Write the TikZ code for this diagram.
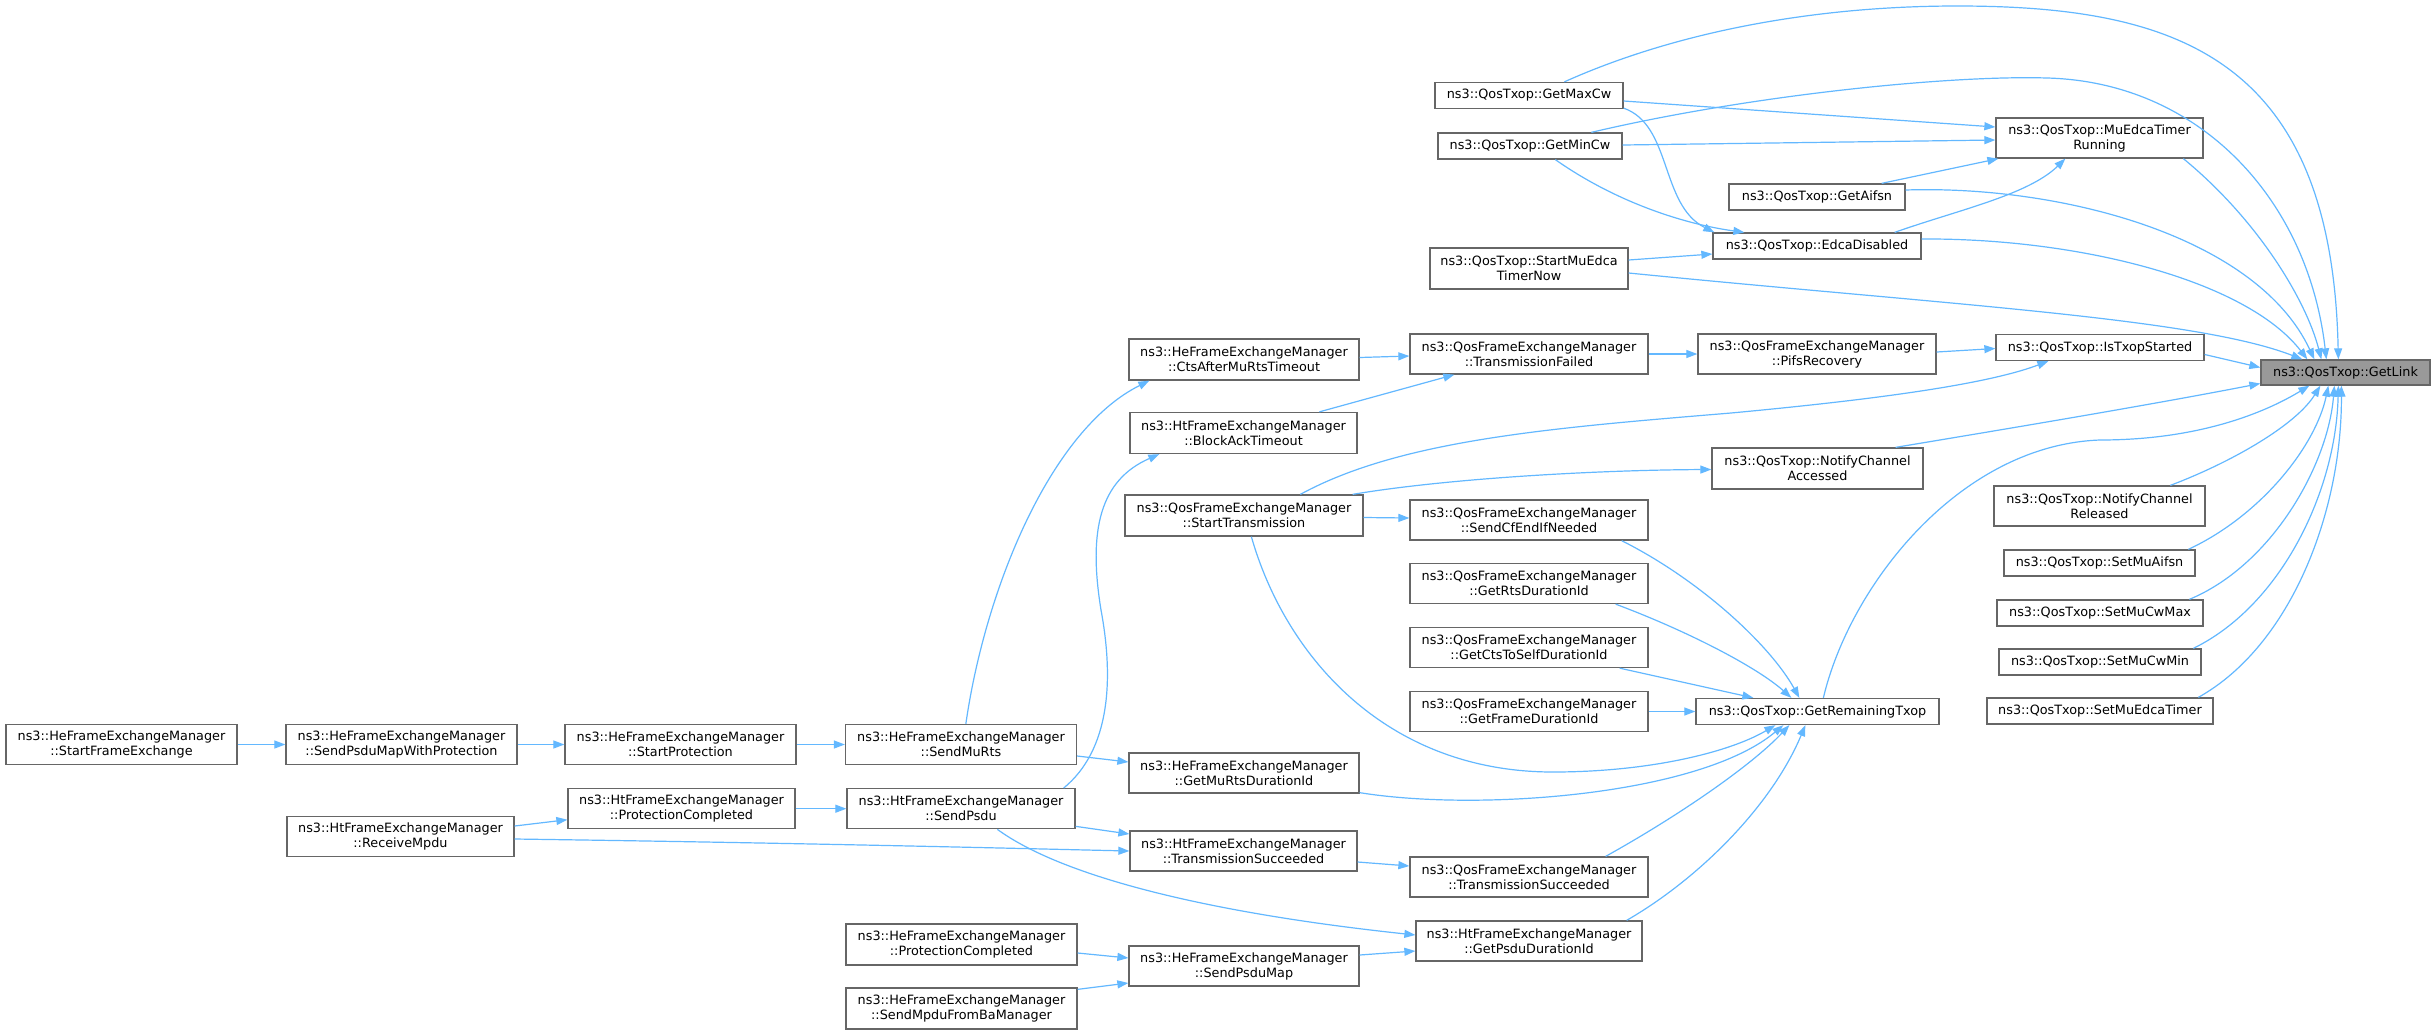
\documentclass[tikz,border=0pt]{standalone}
\usepackage{fontspec}
\newfontfamily\doxfont{DejaVu Sans}
\usetikzlibrary{arrows.meta,calc}
\definecolor{boxgray}{HTML}{666666}
\definecolor{hlfill}{HTML}{999999}
\definecolor{edgeblue}{HTML}{63B8FF}
\tikzset{
  box/.style={draw=boxgray, fill=white, line width=1.3pt, inner sep=0pt, align=center,
    font=\doxfont\fontsize{12.8}{15}\selectfont},
  hl/.style={box, fill=hlfill},
  edge/.style={draw=edgeblue, line width=1.2pt, -{Triangle[length=11pt,width=8pt]}},
}
\begin{document}
\begin{tikzpicture}[x=1pt,y=-1pt]
\fill[white] (0,0) rectangle (2435,1034);
\useasboundingbox (0,0) rectangle (2435,1034);
% ---- nodes
\node[box, minimum width=231pt, minimum height=40pt] (SFE) at (121.5,744.5) {ns3::HeFrameExchangeManager\\::StartFrameExchange};
\node[box, minimum width=231pt, minimum height=40pt] (SPMWP) at (401.5,744.5) {ns3::HeFrameExchangeManager\\::SendPsduMapWithProtection};
\node[box, minimum width=227pt, minimum height=40pt] (RMpdu) at (400.5,836.5) {ns3::HtFrameExchangeManager\\::ReceiveMpdu};
\node[box, minimum width=231pt, minimum height=40pt] (StartProt) at (680.5,744.5) {ns3::HeFrameExchangeManager\\::StartProtection};
\node[box, minimum width=227pt, minimum height=40pt] (HtProtC) at (681.5,808.7) {ns3::HtFrameExchangeManager\\::ProtectionCompleted};
\node[box, minimum width=231pt, minimum height=40pt] (SendMuRts) at (961,744.5) {ns3::HeFrameExchangeManager\\::SendMuRts};
\node[box, minimum width=228pt, minimum height=40pt] (SendPsdu) at (961,808.7) {ns3::HtFrameExchangeManager\\::SendPsdu};
\node[box, minimum width=231pt, minimum height=41pt] (HeProtC) at (961.5,944.5) {ns3::HeFrameExchangeManager\\::ProtectionCompleted};
\node[box, minimum width=231pt, minimum height=41pt] (SMFBM) at (961.5,1008.5) {ns3::HeFrameExchangeManager\\::SendMpduFromBaManager};
\node[box, minimum width=230pt, minimum height=41pt] (CtsAMRT) at (1244,359.5) {ns3::HeFrameExchangeManager\\::CtsAfterMuRtsTimeout};
\node[box, minimum width=227pt, minimum height=41pt] (BAT) at (1243.5,433) {ns3::HtFrameExchangeManager\\::BlockAckTimeout};
\node[box, minimum width=238pt, minimum height=41pt] (StartTx) at (1244,515.5) {ns3::QosFrameExchangeManager\\::StartTransmission};
\node[box, minimum width=230pt, minimum height=40pt] (GetMuRts) at (1244,773) {ns3::HeFrameExchangeManager\\::GetMuRtsDurationId};
\node[box, minimum width=227pt, minimum height=40pt] (HtTxS) at (1243.5,851) {ns3::HtFrameExchangeManager\\::TransmissionSucceeded};
\node[box, minimum width=230pt, minimum height=40pt] (SPM) at (1244,966) {ns3::HeFrameExchangeManager\\::SendPsduMap};
\node[box, minimum width=188pt, minimum height=26pt] (GetMaxCw) at (1529,95.5) {ns3::QosTxop::GetMaxCw};
\node[box, minimum width=184pt, minimum height=26pt] (GetMinCw) at (1530,146) {ns3::QosTxop::GetMinCw};
\node[box, minimum width=198pt, minimum height=41pt] (SMETN) at (1529,268.5) {ns3::QosTxop::StartMuEdca\\TimerNow};
\node[box, minimum width=238pt, minimum height=40pt] (TxFailed) at (1529,354) {ns3::QosFrameExchangeManager\\::TransmissionFailed};
\node[box, minimum width=238pt, minimum height=40pt] (SendCfEnd) at (1529,520) {ns3::QosFrameExchangeManager\\::SendCfEndIfNeeded};
\node[box, minimum width=238pt, minimum height=40pt] (GetRts) at (1529,583.5) {ns3::QosFrameExchangeManager\\::GetRtsDurationId};
\node[box, minimum width=238pt, minimum height=40pt] (GetCts) at (1529,647.5) {ns3::QosFrameExchangeManager\\::GetCtsToSelfDurationId};
\node[box, minimum width=238pt, minimum height=40pt] (GetFrame) at (1529,711.5) {ns3::QosFrameExchangeManager\\::GetFrameDurationId};
\node[box, minimum width=238pt, minimum height=40pt] (QosTxS) at (1529,877) {ns3::QosFrameExchangeManager\\::TransmissionSucceeded};
\node[box, minimum width=226pt, minimum height=40pt] (GetPsdu) at (1529,941) {ns3::HtFrameExchangeManager\\::GetPsduDurationId};
\node[box, minimum width=176pt, minimum height=26pt] (GetAifsn) at (1817,197) {ns3::QosTxop::GetAifsn};
\node[box, minimum width=208pt, minimum height=26pt] (EdcaDis) at (1817,246) {ns3::QosTxop::EdcaDisabled};
\node[box, minimum width=238pt, minimum height=40pt] (Pifs) at (1817,354) {ns3::QosFrameExchangeManager\\::PifsRecovery};
\node[box, minimum width=211pt, minimum height=41pt] (NCA) at (1817.5,468.5) {ns3::QosTxop::NotifyChannel\\Accessed};
\node[box, minimum width=243pt, minimum height=26pt] (GRT) at (1817.5,711.5) {ns3::QosTxop::GetRemainingTxop};
\node[box, minimum width=207pt, minimum height=40pt] (MuEdca) at (2099.5,138) {ns3::QosTxop::MuEdcaTimer\\Running};
\node[box, minimum width=208pt, minimum height=26pt] (IsTxop) at (2100,347.5) {ns3::QosTxop::IsTxopStarted};
\node[box, minimum width=211pt, minimum height=40pt] (NCR) at (2099.5,506) {ns3::QosTxop::NotifyChannel\\Released};
\node[box, minimum width=191pt, minimum height=26pt] (SetMuAifsn) at (2099.5,563) {ns3::QosTxop::SetMuAifsn};
\node[box, minimum width=206pt, minimum height=26pt] (SetMuCwMax) at (2100,613) {ns3::QosTxop::SetMuCwMax};
\node[box, minimum width=202pt, minimum height=26pt] (SetMuCwMin) at (2100,662) {ns3::QosTxop::SetMuCwMin};
\node[box, minimum width=226pt, minimum height=26pt] (SetMuEdcaTimer) at (2100,711) {ns3::QosTxop::SetMuEdcaTimer};
\node[hl, minimum width=169pt, minimum height=25pt] (GetLink) at (2345.5,372.5) {ns3::QosTxop::GetLink};
% ---- edges into GetLink (top)
\draw[edge] ($(GetMaxCw.north west)+(130,0)$) .. controls (1680,30) and (1820,6) .. (1957,6)
  .. controls (2180,6) and (2332,60) .. ($(GetLink.north west)+(78,0)$);
\draw[edge] ($(GetMinCw.north west)+(154,0)$) .. controls (1750,95) and (1950,75) .. (2047,78)
  .. controls (2200,82) and (2308,200) .. ($(GetLink.north west)+(66,0)$);
\draw[edge] ($(MuEdca.south west)+(188,0)$) .. controls (2258,220) and (2306,300) .. ($(GetLink.north west)+(61,0)$);
\draw[edge] ($(GetAifsn.east)+(0,-7)$) .. controls (2058,185) and (2256,235) .. ($(GetLink.north west)+(54,0)$);
\draw[edge] ($(EdcaDis.east)+(0,-7)$) .. controls (2078,238) and (2246,280) .. ($(GetLink.north west)+(47,0)$);
\draw[edge] ($(SMETN.east)+(0,4.5)$) .. controls (1950,305) and (2196,318) .. ($(GetLink.north west)+(42,0)$);
\draw[edge] ($(IsTxop.east)+(0,7)$) -- ($(GetLink.west)+(0,-5)$);
\draw[edge] ($(NCA.north east)+(-28,0)$) .. controls (2000,430) and (2150,405) .. ($(GetLink.west)+(0,11)$);
\draw[edge] ($(GRT.north west)+(128,0)$) .. controls (1850,585) and (1960,445) .. (2100,440)
  .. controls (2200,440) and (2266,412) .. ($(GetLink.south west)+(49,0)$);
\draw[edge] ($(NCR.north west)+(177,0)$) .. controls (2232,462) and (2296,425) .. ($(GetLink.south west)+(60,0)$);
\draw[edge] ($(SetMuAifsn.north west)+(185,0)$) .. controls (2262,515) and (2316,445) .. ($(GetLink.south west)+(68,0)$);
\draw[edge] ($(SetMuCwMax.north west)+(193,0)$) .. controls (2272,565) and (2328,465) .. ($(GetLink.south west)+(74,0)$);
\draw[edge] ($(SetMuCwMin.north west)+(195,0)$) .. controls (2282,605) and (2336,490) .. ($(GetLink.south west)+(78,0)$);
\draw[edge] ($(SetMuEdcaTimer.north west)+(212,0)$) .. controls (2292,645) and (2342,510) .. ($(GetLink.south west)+(81,0)$);
% ---- into MuEdca
\draw[edge] ($(GetMaxCw.east)+(0,5.5)$) -- ($(MuEdca.west)+(0,-11)$);
\draw[edge] ($(GetMinCw.east)+(0,-1)$) -- ($(MuEdca.west)+(0,2)$);
\draw[edge] ($(GetAifsn.north east)+(-24,0)$) -- ($(MuEdca.south west)+(3,0)$);
\draw[edge] ($(EdcaDis.north east)+(-27,0)$) .. controls (1958,210) and (2028,195) .. ($(MuEdca.south west)+(70,0)$);
% ---- into EdcaDisabled
\draw[edge] ($(GetMaxCw.south east)+(0,-1)$) .. controls (1672,125) and (1660,205) .. ($(EdcaDis.north west)+(2,0)$);
\draw[edge] ($(GetMinCw.south west)+(118,0)$) .. controls (1620,205) and (1690,225) .. ($(EdcaDis.north west)+(32,0)$);
\draw[edge] ($(SMETN.east)+(0,-8.5)$) -- ($(EdcaDis.west)+(0,8)$);
% ---- middle chain
\draw[edge] ($(CtsAMRT.east)+(0,-2)$) -- ($(TxFailed.west)+(0,2)$);
\draw[edge] ($(BAT.north west)+(190,0)$) -- ($(TxFailed.south west)+(45,0)$);
\draw[edge] (TxFailed.east) -- (Pifs.west);
\draw[edge] ($(Pifs.east)+(0,-2)$) -- ($(IsTxop.west)+(0,1)$);
\draw[edge] ($(StartTx.north west)+(176,0)$) .. controls (1400,440) and (1550,428) .. (1731,413)
  .. controls (1870,400) and (1985,385) .. ($(IsTxop.south west)+(53,0)$);
\draw[edge] ($(StartTx.north east)+(-11,0)$) .. controls (1450,478) and (1600,470) .. ($(NCA.west)+(0,1)$);
\draw[edge] ($(StartTx.east)+(0,2)$) -- ($(SendCfEnd.west)+(0,-2)$);
% ---- into GetRemainingTxop
\draw[edge] ($(SendCfEnd.south east)+(-27,0)$) .. controls (1700,580) and (1770,645) .. ($(GRT.north west)+(104,0)$);
\draw[edge] ($(GetRts.south east)+(-33,0)$) .. controls (1690,632) and (1758,668) .. ($(GRT.north west)+(96,0)$);
\draw[edge] ($(GetCts.south east)+(-29,0)$) -- ($(GRT.north west)+(58,0)$);
\draw[edge] (GetFrame.east) -- (GRT.west);
\draw[edge] ($(StartTx.south west)+(127,0)$) .. controls (1285,655) and (1385,772) .. (1553,772)
  .. controls (1650,772) and (1730,752) .. ($(GRT.south west)+(80,0)$);
\draw[edge] ($(GetMuRts.south east)+(0,-1)$) .. controls (1480,812) and (1700,795) .. ($(GRT.south west)+(88,0)$);
\draw[edge] ($(QosTxS.north east)+(-43,0)$) .. controls (1680,815) and (1752,765) .. ($(GRT.south west)+(94,0)$);
\draw[edge] ($(GetPsdu.north east)+(-16,0)$) .. controls (1700,878) and (1772,805) .. ($(GRT.south west)+(110,0)$);
% ---- left part
\draw[edge] (SFE.east) -- (SPMWP.west);
\draw[edge] (SPMWP.east) -- (StartProt.west);
\draw[edge] (StartProt.east) -- (SendMuRts.west);
\draw[edge] ($(SendMuRts.north west)+(121,0)$) .. controls (985,590) and (1050,430) .. ($(CtsAMRT.south west)+(21,0)$);
\draw[edge] ($(SendPsdu.north east)+(-12,0)$) .. controls (1110,750) and (1114,680) .. (1101,610)
  .. controls (1088,530) and (1100,480) .. ($(BAT.south west)+(30,0)$);
\draw[edge] ($(SendMuRts.east)+(0,11.5)$) -- ($(GetMuRts.west)+(0,-11)$);
\draw[edge] ($(SendPsdu.south east)+(0,-3)$) -- ($(HtTxS.west)+(0,-17)$);
\draw[edge] ($(RMpdu.east)+(0,2.5)$) .. controls (800,843) and (1000,848) .. (HtTxS.west);
\draw[edge] ($(RMpdu.east)+(0,-10.5)$) -- ($(HtProtC.west)+(0,11)$);
\draw[edge] (HtProtC.east) -- (SendPsdu.west);
\draw[edge] ($(SendPsdu.south west)+(151,0)$) .. controls (1060,875) and (1200,912) .. ($(GetPsdu.west)+(0,-6)$);
\draw[edge] ($(SPM.east)+(0,-11)$) -- ($(GetPsdu.west)+(0,10)$);
\draw[edge] ($(HeProtC.east)+(0,8.5)$) -- ($(SPM.west)+(0,-8)$);
\draw[edge] ($(SMFBM.north east)+(0,2)$) -- ($(SPM.west)+(0,17)$);
\draw[edge] ($(HtTxS.east)+(0,11)$) -- ($(QosTxS.west)+(0,-11)$);
\end{tikzpicture}
\end{document}
